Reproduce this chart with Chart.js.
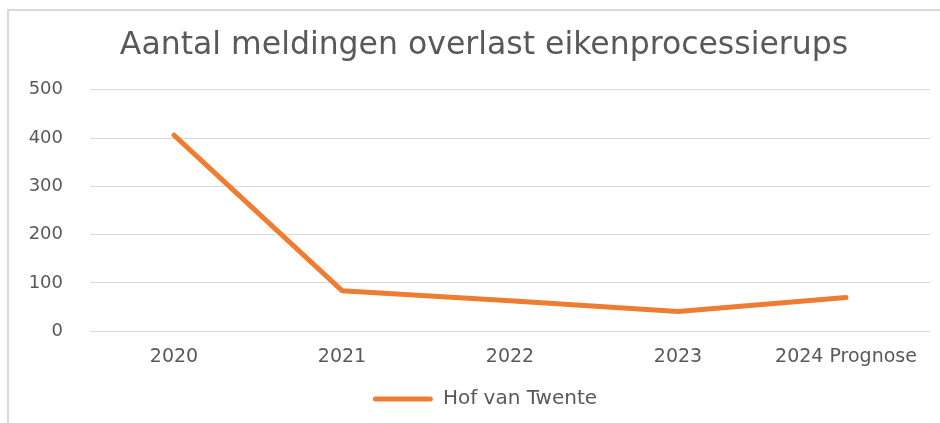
<!DOCTYPE html>
<html>
<head>
<meta charset="utf-8">
<script src="https://cdn.jsdelivr.net/npm/chart.js@4.4.1/dist/chart.umd.min.js"></script>
<style>
  html, body { margin: 0; padding: 0; background: #ffffff; overflow: hidden; }
  canvas { display: block; }
</style>
</head>
<body>
<canvas id="c" width="940" height="423"></canvas>
<script>
const titleText = "Aantal meldingen overlast eikenprocessierups";
const categories = ["2020", "2021", "2022", "2023", "2024 Prognose"];
const seriesName = "Hof van Twente";
const seriesValues = [406, 84, 63, 41, 70];
const yTicks = [0, 100, 200, 300, 400, 500];

const FONT = "'DejaVu Sans', 'Open Sans', sans-serif";
const GREY = "#595959";
const ORANGE = "#ED7D31";

const framePlugin = {
  id: "frame",
  afterLayout(chart) {
    if (chart.legend) { chart.legend.left += 20; chart.legend.right += 20; }
    if (chart.titleBlock) { chart.titleBlock.left += 19; chart.titleBlock.right += 19; }
  },
  beforeDraw(chart) {
    const ctx = chart.ctx;
    ctx.save();
    ctx.strokeStyle = "#d9d9d9";
    ctx.lineWidth = 2;
    ctx.beginPath();
    ctx.moveTo(8, 423);
    ctx.lineTo(8, 10);
    ctx.lineTo(940, 10);
    ctx.stroke();
    ctx.restore();
  }
};

new Chart(document.getElementById("c"), {
  type: "line",
  data: {
    labels: categories,
    datasets: [{
      label: seriesName,
      data: seriesValues,
      borderColor: ORANGE,
      backgroundColor: ORANGE,
      borderWidth: 5,
      pointRadius: 0,
      tension: 0,
      borderCapStyle: "round",
      borderJoinStyle: "round"
    }]
  },
  plugins: [framePlugin],
  options: {
    responsive: false,
    animation: false,
    layout: { padding: { left: 0, right: 10, top: 0, bottom: 4 } },
    plugins: {
      title: {
        display: true,
        text: titleText,
        color: GREY,
        font: { family: FONT, size: 31.5, weight: "normal" },
        padding: { top: 27, bottom: 25 }
      },
      legend: {
        display: true,
        position: "bottom",
        labels: {
          color: GREY,
          font: { family: FONT, size: 20 },
          boxWidth: 60,
          boxHeight: 5,
          padding: 7,
          generateLabels(chart) {
            const items = Chart.defaults.plugins.legend.labels.generateLabels(chart);
            return items.map(it => Object.assign(it, { lineWidth: 0, borderRadius: 2.5 }));
          }
        }
      },
      tooltip: { enabled: false }
    },
    scales: {
      x: {
        offset: true,
        grid: { display: false, drawTicks: false },
        border: { display: false },
        ticks: { color: GREY, font: { family: FONT, size: 19 }, padding: 14, maxRotation: 0 }
      },
      y: {
        min: 0,
        max: 500,
        afterBuildTicks: (s) => { s.ticks = yTicks.map(v => ({ value: v })); },
        afterFit: (s) => { s.width = 90; },
        grid: { color: "#d9d9d9", lineWidth: 1, drawTicks: false },
        border: { display: false },
        ticks: { color: GREY, font: { family: FONT, size: 18 }, padding: 27 }
      }
    }
  }
});
</script>
</body>
</html>
